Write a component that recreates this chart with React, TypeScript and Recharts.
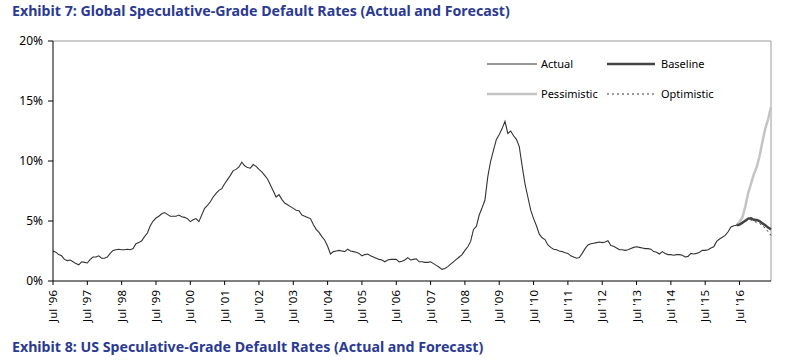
import React from 'react';
import { LineChart, Line, XAxis, YAxis, ReferenceLine, Legend } from 'recharts';

// Monthly global speculative-grade default rate (%), Jul '96 .. Jun '16
const actual = [
  2.5, 2.4, 2.2, 2.1, 1.8, 1.7, 1.75, 1.6, 1.45, 1.35, 1.6, 1.55,
  1.5, 1.8, 2.0, 2.0, 2.1, 1.9, 1.9, 2.0, 2.3, 2.55, 2.6, 2.65,
  2.6, 2.6, 2.65, 2.6, 2.7, 3.1, 3.2, 3.35, 3.7, 4.0, 4.6, 5.0,
  5.25, 5.4, 5.6, 5.7, 5.55, 5.4, 5.4, 5.4, 5.5, 5.35, 5.3, 5.2,
  4.95, 5.1, 5.2, 4.95, 5.5, 6.05, 6.3, 6.6, 7.0, 7.3, 7.55, 7.7,
  8.1, 8.45, 8.8, 9.2, 9.3, 9.5, 9.9, 9.6, 9.45, 9.4, 9.7, 9.55,
  9.3, 9.1, 8.8, 8.5, 8.0, 7.5, 7.0, 7.2, 6.8, 6.5, 6.35, 6.2,
  6.05, 5.9, 5.85, 5.5, 5.4, 5.3, 5.2, 4.7, 4.3, 4.05, 3.7, 3.4,
  2.9, 2.25, 2.45, 2.5, 2.55, 2.5, 2.45, 2.65, 2.5, 2.45, 2.4, 2.3,
  2.1, 2.2, 2.25, 2.1, 2.0, 1.9, 1.8, 1.75, 1.6, 1.75, 1.8, 1.8,
  1.8, 1.6, 1.65, 1.75, 1.95, 1.75, 1.8, 1.85, 1.6, 1.6, 1.55, 1.55,
  1.6, 1.45, 1.3, 1.15, 0.97, 1.05, 1.2, 1.4, 1.6, 1.8, 2.0, 2.2,
  2.55, 2.85, 3.3, 4.3, 4.55, 5.5, 6.1, 6.75, 8.7, 10.0, 10.9, 11.8,
  12.2, 12.7, 13.3, 12.3, 12.5, 12.1, 11.8, 11.2, 9.6, 8.1, 7.0, 5.9,
  5.2, 4.6, 3.9, 3.6, 3.45, 3.0, 2.8, 2.65, 2.6, 2.5, 2.45, 2.35,
  2.3, 2.1, 2.0, 1.9, 1.95, 2.3, 2.7, 3.0, 3.1, 3.15, 3.2, 3.25,
  3.2, 3.25, 3.35, 2.95, 2.9, 2.75, 2.6, 2.6, 2.55, 2.6, 2.7, 2.8,
  2.85, 2.8, 2.75, 2.7, 2.7, 2.65, 2.45, 2.4, 2.25, 2.45, 2.3, 2.2,
  2.2, 2.15, 2.2, 2.2, 2.15, 2.0, 2.05, 2.3, 2.25, 2.3, 2.4, 2.55,
  2.55, 2.6, 2.75, 2.85, 3.3, 3.5, 3.65, 3.8, 4.1, 4.5, 4.6, 4.65,
];

// Forecasts, Jun '16 .. Jun '17
const baseline = [4.65, 4.7, 4.85, 5.03, 5.2, 5.22, 5.1, 5.08, 5.0, 4.8, 4.65, 4.45, 4.3];
const pessimistic = [4.65, 4.9, 5.3, 6.2, 7.3, 8.1, 8.9, 9.5, 10.4, 11.6, 12.7, 13.5, 14.5];
const optimistic = [4.65, 4.7, 4.8, 4.95, 5.1, 5.1, 4.95, 4.9, 4.8, 4.6, 4.4, 4.1, 3.8];

const forecastStart = 239;
const monthCount = 252;

const yTicks = [0, 5, 10, 15, 20];
const xTickLabels = [
  "Jul '96", "Jul '97", "Jul '98", "Jul '99", "Jul '00", "Jul '01", "Jul '02",
  "Jul '03", "Jul '04", "Jul '05", "Jul '06", "Jul '07", "Jul '08", "Jul '09",
  "Jul '10", "Jul '11", "Jul '12", "Jul '13", "Jul '14", "Jul '15", "Jul '16",
];
const xTicks = xTickLabels.map((_, k) => k * 12);

const data = Array.from({ length: monthCount }, (_, i) => ({
  i,
  actual: i < actual.length ? actual[i] : null,
  baseline: i >= forecastStart ? baseline[i - forecastStart] : null,
  pessimistic: i >= forecastStart ? pessimistic[i - forecastStart] : null,
  optimistic: i >= forecastStart ? optimistic[i - forecastStart] : null,
}));

const FONT = "'Noto Sans', sans-serif";
const TITLE_COLOR = '#2b3a92';

const XTick = (props: any) => {
  const { x, y, payload } = props;
  const label = xTickLabels[Math.round(payload.value / 12)];
  return (
    <g transform={`translate(${x},${y})`}>
      <text
        transform="rotate(-90)"
        textAnchor="end"
        dy="0.35em"
        fontSize={11.5}
        fontFamily={FONT}
        fill="#000"
      >
        {label}
      </text>
    </g>
  );
};

const LegendContent = () => (
  <svg width={270} height={56} style={{ display: 'block' }}>
    <g fontFamily={FONT} fontSize={11} fill="#000">
      <line x1={7} x2={57} y1={14} y2={14} stroke="#333" strokeWidth={1} />
      <text x={61} y={14} dy="0.35em">Actual</text>
      <line x1={127} x2={175} y1={14} y2={14} stroke="#444" strokeWidth={2.5} />
      <text x={181} y={14} dy="0.35em">Baseline</text>
      <line x1={7} x2={57} y1={44} y2={44} stroke="#c4c4c4" strokeWidth={2.5} />
      <text x={61} y={44} dy="0.35em">Pessimistic</text>
      <line x1={127} x2={175} y1={44} y2={44} stroke="#333" strokeWidth={1} strokeDasharray="2 3" />
      <text x={181} y={44} dy="0.35em">Optimistic</text>
    </g>
  </svg>
);

const titleStyle: React.CSSProperties = {
  position: 'absolute', left: 12, fontSize: 14.2, fontWeight: 700,
  color: TITLE_COLOR, whiteSpace: 'nowrap', lineHeight: '22px',
};

export default function App() {
  return (
    <div style={{ position: 'absolute', left: 0, top: 0, width: 798, height: 361, background: '#fff', fontFamily: FONT }}>
      <div style={{ ...titleStyle, top: 0 }}>
        Exhibit 7: Global Speculative-Grade Default Rates (Actual and Forecast)
      </div>
      <LineChart
        width={798}
        height={361}
        data={data}
        margin={{ top: 41, right: 27, bottom: 20, left: 8 }}
        style={{ position: 'absolute', left: 0, top: 0 }}
      >
        <XAxis
          dataKey="i"
          type="number"
          domain={[0, monthCount - 1]}
          ticks={xTicks}
          interval={0}
          height={60}
          tickSize={4}
          tickMargin={5}
          tick={<XTick />}
          axisLine={{ stroke: '#000', strokeWidth: 1 }}
          tickLine={{ stroke: '#000' }}
        />
        <YAxis
          type="number"
          domain={[0, 20]}
          ticks={yTicks}
          width={45}
          tickSize={5}
          tickMargin={5}
          tickFormatter={(v: number) => `${v}%`}
          tick={{ fontSize: 12, fontFamily: FONT, fill: '#000' }}
          axisLine={{ stroke: '#000', strokeWidth: 1 }}
          tickLine={{ stroke: '#000' }}
        />
        <ReferenceLine y={20} stroke="#9a9a9a" strokeWidth={1} ifOverflow="visible" />
        <ReferenceLine x={monthCount - 1} stroke="#9a9a9a" strokeWidth={1} ifOverflow="visible" />
        <Legend
          layout="horizontal"
          verticalAlign="middle"
          align="center"
          content={<LegendContent />}
          wrapperStyle={{ left: 480, top: 50, width: 270, height: 56 }}
        />
        <Line
          dataKey="pessimistic"
          stroke="#c4c4c4"
          strokeWidth={2.5}
          dot={false}
          isAnimationActive={false}
        />
        <Line
          dataKey="optimistic"
          stroke="#333"
          strokeWidth={1}
          strokeDasharray="2 3"
          dot={false}
          isAnimationActive={false}
        />
        <Line
          dataKey="baseline"
          stroke="#444"
          strokeWidth={2.5}
          dot={false}
          isAnimationActive={false}
        />
        <Line
          dataKey="actual"
          stroke="#333"
          strokeWidth={1.1}
          dot={false}
          isAnimationActive={false}
        />
      </LineChart>
      <div style={{ ...titleStyle, top: 336 }}>
        Exhibit 8: US Speculative-Grade Default Rates (Actual and Forecast)
      </div>
    </div>
  );
}
